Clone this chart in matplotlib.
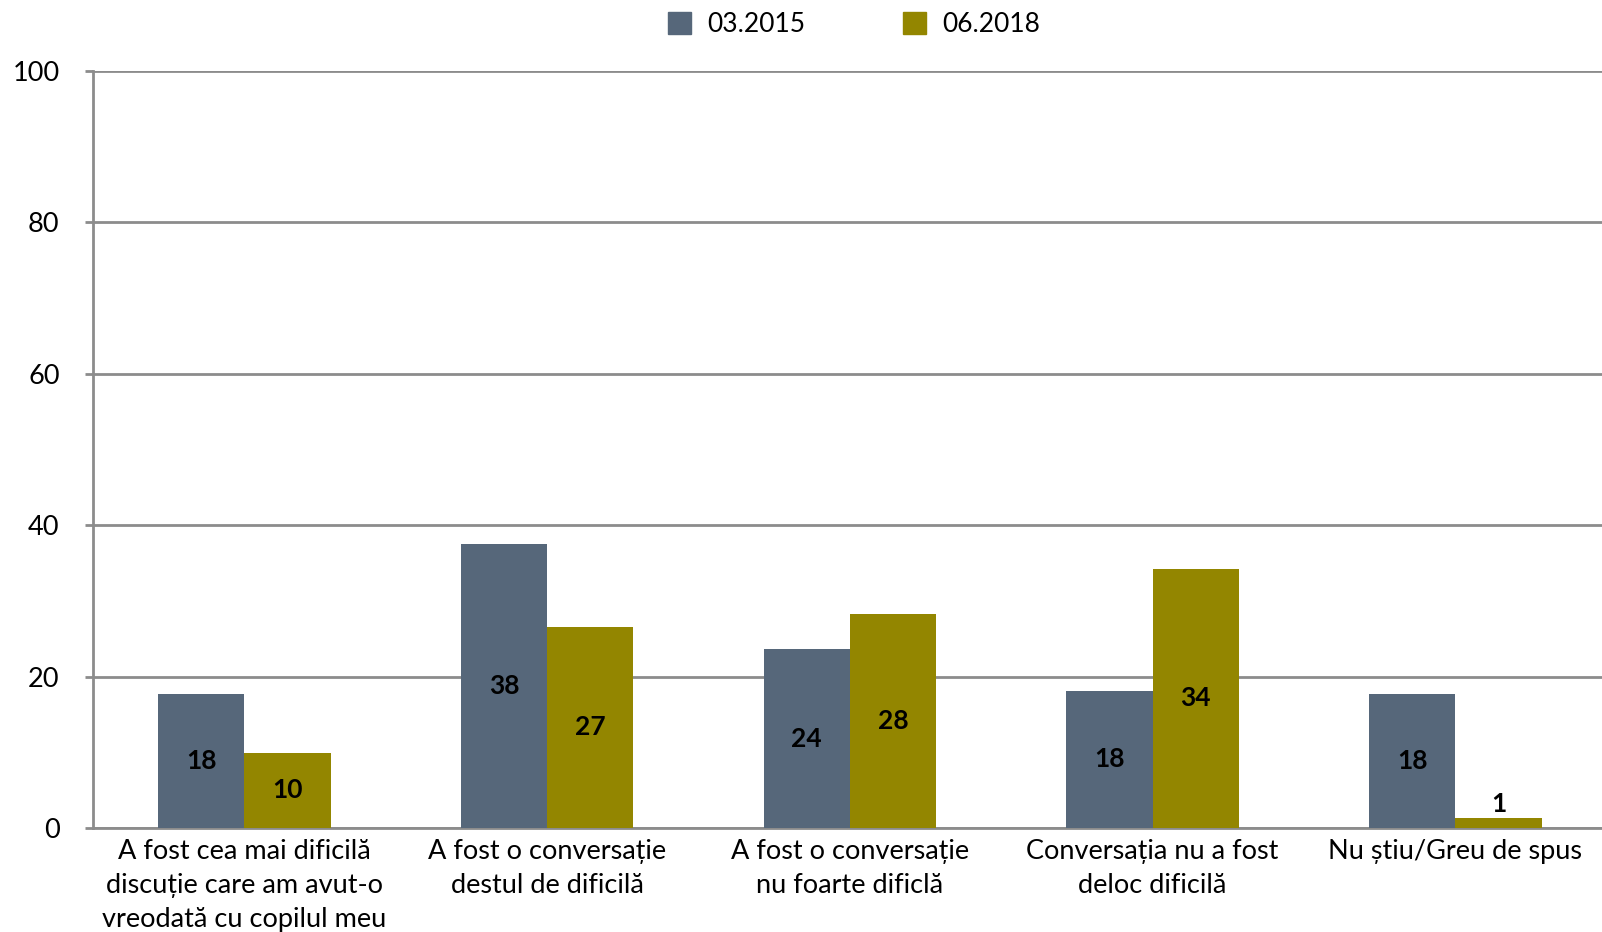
import numpy as np
import matplotlib.pyplot as plt
from matplotlib.patches import Patch

categories = [
    "A fost cea mai dificilă\ndiscuție care am avut-o\nvreodată cu copilul meu",
    "A fost o conversație\ndestul de dificilă",
    "A fost o conversație\nnu foarte dificlă",
    "Conversația nu a fost\ndeloc dificilă",
    "Nu știu/Greu de spus",
]
series_names = ["03.2015", "06.2018"]
values_2015 = [17.7, 37.5, 23.6, 18.1, 17.7]
values_2018 = [9.9, 26.6, 28.2, 34.2, 1.3]
yticks = [0, 20, 40, 60, 80, 100]

colors = ["#56677a", "#938600"]
grid_color = "#8c8c8c"

plt.rcParams['font.family'] = ['Lato', 'DejaVu Sans']

fig = plt.figure(figsize=(16.02, 9.32), dpi=100)
ax = fig.add_axes([0.058, 0.1116, 0.945, 0.8127])

x = np.arange(len(categories))
w = 0.285
b1 = ax.bar(x - w / 2, values_2015, w, color=colors[0], zorder=3)
b2 = ax.bar(x + w / 2, values_2018, w, color=colors[1], zorder=3)

# data labels: centred in the bar, above it when the bar is too short
for bars in (b1, b2):
    for r in bars:
        h = r.get_height()
        cx = r.get_x() + r.get_width() / 2
        if h >= 5:
            ax.text(cx, h / 2, f"{h:.0f}", ha='center', va='center',
                    fontsize=19, fontweight='bold', color='black', zorder=4)
        else:
            ax.text(cx, h + 0.3, f"{h:.0f}", ha='center', va='bottom',
                    fontsize=19, fontweight='bold', color='black', zorder=4)

ax.set_xlim(-0.5, len(categories) - 0.5)
ax.set_ylim(0, 100)
ax.set_yticks(yticks)
ax.set_xticks(x)
ax.set_xticklabels(categories, fontsize=19.5, linespacing=1.45)
ax.tick_params(axis='x', length=0, pad=8)
ax.tick_params(axis='y', labelsize=19.5, length=6, width=2, color=grid_color, pad=18)
for lab in ax.get_yticklabels():
    lab.set_horizontalalignment('right')

ax.yaxis.grid(True, color=grid_color, linewidth=2, zorder=0)
ax.set_axisbelow(True)
for s in ['top', 'right']:
    ax.spines[s].set_visible(False)
ax.spines['left'].set_color(grid_color)
ax.spines['left'].set_linewidth(2)
ax.spines['bottom'].set_color(grid_color)
ax.spines['bottom'].set_linewidth(2)

handles = [Patch(color=c, label=n) for c, n in zip(colors, series_names)]
fig.legend(handles=handles, loc='center', bbox_to_anchor=(0.533, 0.974), ncol=2,
           frameon=False, fontsize=19, handlelength=0.9, handleheight=0.9,
           columnspacing=3.7, handletextpad=0.6)

fig.savefig("out.png", dpi=100)
